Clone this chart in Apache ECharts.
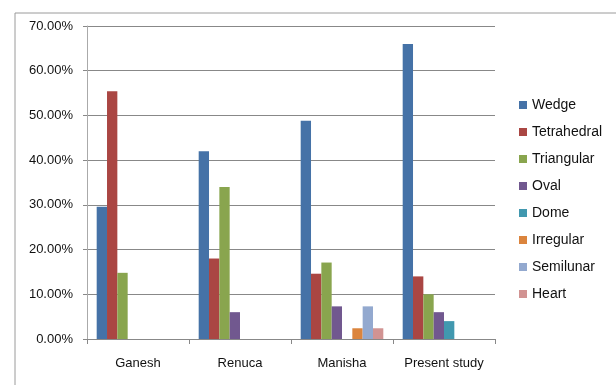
<!DOCTYPE html>
<html><head><meta charset="utf-8">
<script src="https://cdn.jsdelivr.net/npm/echarts@6/dist/echarts.min.js"></script>
<style>html,body{margin:0;padding:0;background:#fff}#c{width:616px;height:385px}</style>
</head><body><div id="c"></div>
<script>
const categories = ["Ganesh", "Renuca", "Manisha", "Present study"];
const seriesNames = ["Wedge", "Tetrahedral", "Triangular", "Oval", "Dome", "Irregular", "Semilunar", "Heart"];
const wedge = [29.6, 42.0, 48.8, 66.0];
const tetrahedral = [55.4, 18.0, 14.6, 14.0];
const triangular = [14.8, 34.0, 17.1, 10.0];
const oval = [0, 6.0, 7.3, 6.0];
const dome = [0, 0, 0, 4.0];
const irregular = [0, 0, 2.4, 0];
const semilunar = [0, 0, 7.3, 0];
const heart = [0, 0, 2.4, 0];
const yTicks = [0, 10, 20, 30, 40, 50, 60, 70];

const values = [wedge, tetrahedral, triangular, oval, dome, irregular, semilunar, heart];
const colors = ["#4572A7", "#AA4643", "#89A54E", "#71588F", "#4198AF", "#DB843D", "#93A9CF", "#D19392"];
const font = "'Liberation Sans', Arial, sans-serif";

const chart = echarts.init(document.getElementById('c'), null, {renderer: 'canvas'});
chart.setOption({
  animation: false,
  color: colors,
  graphic: [{
    type: 'rect', left: 12.5, top: 10.5,
    shape: {width: 700, height: 500},
    style: {fill: 'none', stroke: '#9a9a9a', lineWidth: 1}
  }],
  grid: {left: 87, right: 121, top: 26, bottom: 46, containLabel: false},
  legend: {
    orient: 'vertical', left: 519, top: 98, padding: 0,
    icon: 'rect', itemWidth: 8, itemHeight: 8, itemGap: 13,
    textStyle: {fontFamily: font, fontSize: 14, color: '#111', lineHeight: 14},
    data: seriesNames
  },
  xAxis: {
    type: 'category', data: categories,
    axisLine: {lineStyle: {color: '#888', width: 1}},
    axisTick: {show: true, length: 5, lineStyle: {color: '#888'}},
    axisLabel: {fontFamily: font, fontSize: 13, color: '#111', margin: 18, interval: 0}
  },
  yAxis: {
    type: 'value', min: yTicks[0], max: yTicks[yTicks.length - 1], interval: 10,
    axisLine: {show: true, lineStyle: {color: '#aaa', width: 1}},
    axisTick: {show: true, length: 4, lineStyle: {color: '#888'}},
    splitLine: {lineStyle: {color: '#888', width: 1}},
    axisLabel: {fontFamily: font, fontSize: 13, color: '#111', margin: 14,
      formatter: v => v.toFixed(2) + '%'}
  },
  series: seriesNames.map((n, i) => ({
    name: n, type: 'bar', data: values[i],
    barGap: '0%', barCategoryGap: '19%',
    itemStyle: {color: colors[i]}
  }))
});
</script></body></html>
